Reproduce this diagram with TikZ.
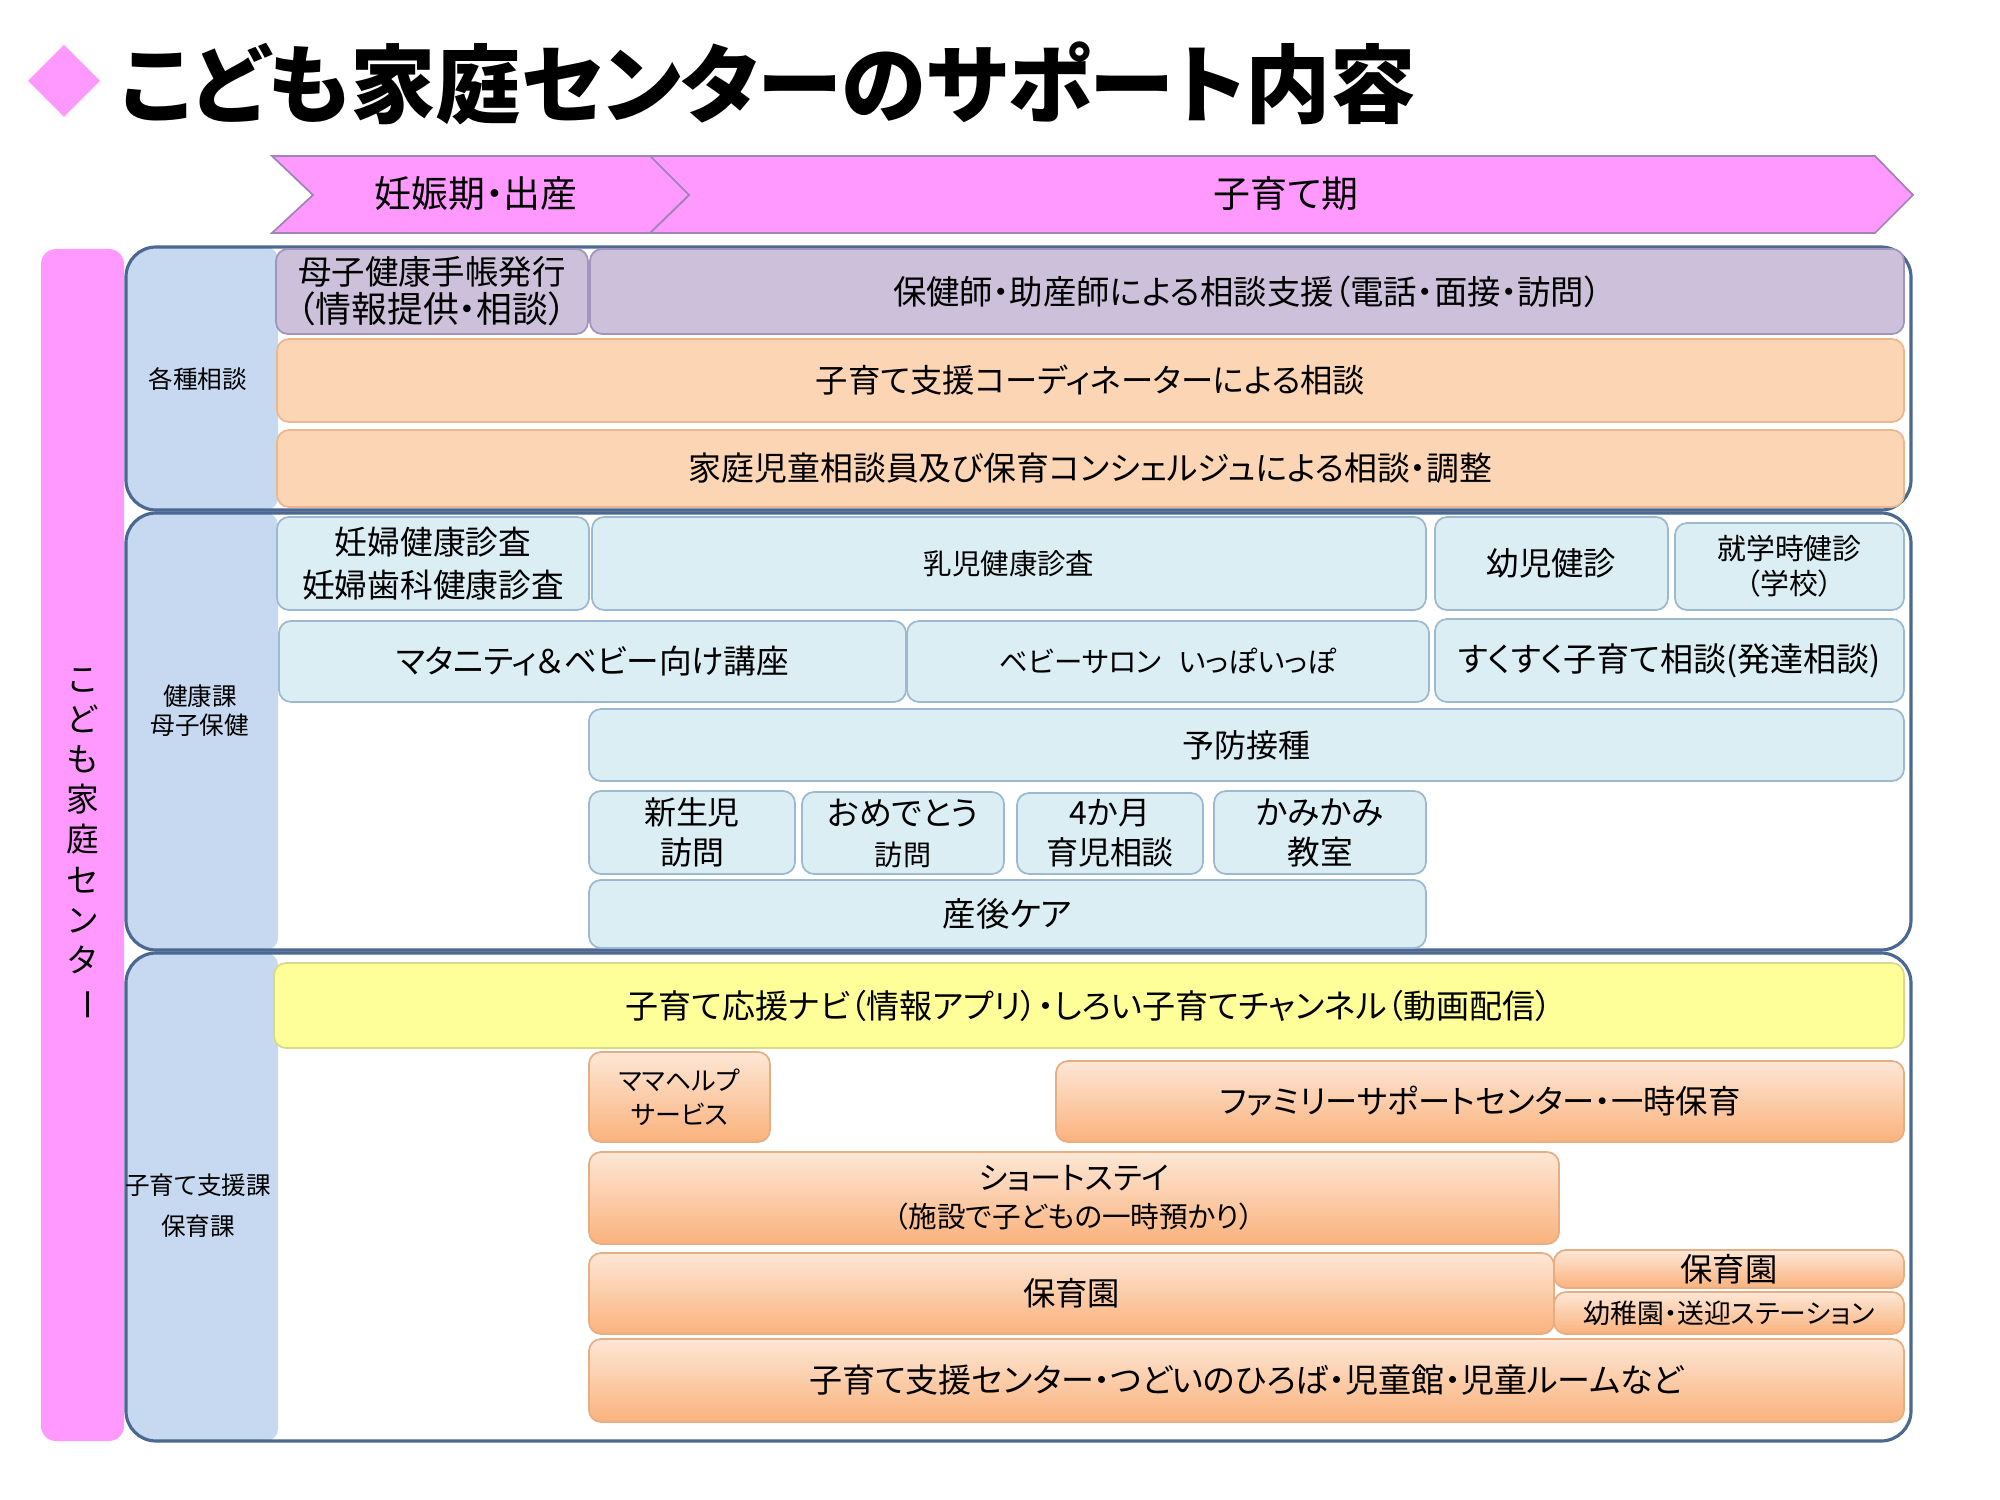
\documentclass[tikz,border=0pt]{standalone}
\usepackage{fontspec}
\usepackage{graphicx}
\setmainfont{Noto Sans CJK JP}[RawFeature=+palt]

\definecolor{pinkfill}{HTML}{FF99FF}
\definecolor{chevline}{HTML}{9E85B8}
\definecolor{colblue}{HTML}{C6D9F1}
\definecolor{frameline}{HTML}{4A6891}
\definecolor{lavfill}{HTML}{CCC0DA}
\definecolor{lavline}{HTML}{A394BD}
\definecolor{peachfill}{HTML}{FCD5B5}
\definecolor{peachline}{HTML}{EDB78E}
\definecolor{icefill}{HTML}{DBEEF4}
\definecolor{iceline}{HTML}{9DB9CF}
\definecolor{yelfill}{HTML}{FFFF99}
\definecolor{yelline}{HTML}{D9D98C}
\definecolor{orgtop}{HTML}{FDE7D6}
\definecolor{orgbot}{HTML}{FAB27C}
\definecolor{orgline}{HTML}{E7AE83}

\newcommand\sz[2]{\fontsize{#1}{#2}\selectfont}

\tikzset{
  span/.style n args={4}{at={({(#1+#3)/2},{(#2+#4)/2})},
    minimum width={(#3-#1)*0.1mm}, minimum height={(#4-#2)*0.1mm}},
  cell/.style={rounded corners=1.2mm, inner sep=0pt, align=center, line width=0.5pt},
  lav/.style={cell, fill=lavfill, draw=lavline},
  peach/.style={cell, fill=peachfill, draw=peachline},
  ice/.style={cell, fill=icefill, draw=iceline},
  yel/.style={cell, fill=yelfill, draw=yelline},
  org/.style={cell, top color=orgtop, bottom color=orgbot, draw=orgline},
  band/.style={fill=pinkfill, draw=chevline, line width=0.5pt},
  frame/.style={draw=frameline, line width=0.9pt, rounded corners=3mm},
}

\begin{document}
\begin{tikzpicture}[x=0.1mm, y=-0.1mm]
\useasboundingbox (0,0) rectangle (2000,1500);

% title
\fill[pinkfill] (64,45) -- (100,81) -- (64,117) -- (28,81) -- cycle;
\node[anchor=west, font=\sz{24.3}{28}\bfseries] (title) at (108,83) {こども家庭センターのサポート内容};

% stages
\draw[band] (650,156) -- (1875,156) -- (1913,195) -- (1875,233) -- (650,233) -- (689,195) -- cycle;
\draw[band] (272,156) -- (650,156) -- (689,195) -- (650,233) -- (272,233) -- (313,195) -- cycle;
\node[font=\sz{10.5}{12}] (ninshin) at (476,194) {妊娠期・出産};
\node[font=\sz{10.5}{12}] (kosodate) at (1286,194) {子育て期};

% side bar
\node[fill=pinkfill, rounded corners=1.5mm, inner sep=0pt, span={41}{249}{124}{1441},
      align=center, font=\sz{9.3}{11.4}] (center)
  {こ\\ど\\も\\家\\庭\\セ\\ン\\タ\\\rotatebox[origin=c]{-90}{ー}};

% section frames
\foreach \t/\b in {247/510, 513/950, 953/1441} {
  \begin{scope}
    \clip[rounded corners=3mm] (126,\t) rectangle (1911,\b);
    \fill[white] (126,\t) rectangle (1911,\b);
    \fill[colblue, rounded corners=1.2mm] (100,\t) rectangle (278,\b);
  \end{scope}
  \draw[frame] (126,\t) rectangle (1911,\b);
}
\node[font=\sz{7}{9}] (soudan) at (198,379) {各種相談};
\node[align=center, font=\sz{7}{8.3}] (kenko) at (200,711) {健康課\\母子保健};
\node[align=center, font=\sz{7}{11.7}] (kosodateka) at (198,1206) {子育て支援課\\保育課};

% consultation
\node[lav, span={276}{249}{588}{334}, font=\sz{9.5}{10.8}] (techo) {母子健康手帳発行\\{\sz{10.2}{10.8}（情報提供・相談）}};
\node[lav, span={590}{249}{1904}{334}, font=\sz{9.5}{11}] (hokenshi) {保健師・助産師による相談支援（電話・面接・訪問）};
\node[peach, span={277}{339}{1904}{422}, font=\sz{9.2}{11}] (coord) {子育て支援コーディネーターによる相談};
\node[peach, span={277}{430}{1904}{507}, font=\sz{9.35}{11}] (katei) {家庭児童相談員及び保育コンシェルジュによる相談・調整};

% health
\node[ice, span={277}{517}{589}{610}, font=\sz{9.3}{12.2}] (ninpu) {妊婦健康診査\\妊婦歯科健康診査};
\node[ice, span={592}{517}{1426}{610}, font=\sz{8.1}{10}] (nyuji) {乳児健康診査};
\node[ice, span={1435}{517}{1668}{610}, font=\sz{9.2}{11}] (yoji) {幼児健診};
\node[ice, span={1675}{523}{1904}{610}, font=\sz{8.2}{10}] (shugaku) {就学時健診\\（学校）};
\node[ice, span={279}{621}{906}{702}, font=\sz{9.3}{11}] (maternity) {マタニティ＆ベビー向け講座};
\node[ice, span={907}{621}{1429}{702}, font=\sz{8.1}{10}] (salon) {ベビーサロン\hspace{0.6em}いっぽいっぽ};
\node[ice, span={1435}{619}{1904}{702}, font=\sz{9.4}{11}] (sukusuku) {すくすく子育て相談(発達相談)};
\node[ice, span={589}{709}{1904}{781}, font=\sz{9.1}{11}] (yobo) {予防接種};
\node[ice, span={589}{791}{795}{874}, font=\sz{9.1}{11.4}] (shinsei) {新生児\\訪問};
\node[ice, span={802}{792}{1004}{874}, font=\sz{9.4}{11.4}] (omedeto) {おめでとう\\{\sz{8}{10}訪問}};
\node[ice, span={1017}{793}{1203}{874}, font=\sz{9.1}{11.4}] (yonkagetsu) {4か月\\育児相談};
\node[ice, span={1214}{791}{1426}{874}, font=\sz{9.3}{11.4}] (kamikami) {かみかみ\\教室};
\node[ice, span={589}{880}{1426}{948}, font=\sz{9.5}{11}] (sango) {産後ケア};

% child care
\node[yel, span={274}{963}{1904}{1048}, font=\sz{9.4}{12}] (navi) {子育て応援ナビ（情報アプリ）・しろい子育てチャンネル（動画配信）};
\node[org, span={589}{1052}{770}{1142}, font=\sz{7.4}{9.7}] (mamahelp) {ママヘルプ\\サービス};
\node[org, span={1056}{1061}{1904}{1142}, font=\sz{9.2}{11}] (family) {ファミリーサポートセンター・一時保育};
\node[org, span={589}{1152}{1559}{1244}, font=\sz{8.9}{10.8}] (short) {ショートステイ\\{\sz{8.15}{10.8}（施設で子どもの一時預かり）}};
\node[org, span={589}{1253}{1554}{1334}, font=\sz{9.2}{11}] (hoikuen) {保育園};
\node[org, span={1554}{1250}{1904}{1288}, font=\sz{9.2}{11}] (hoikuenb) {保育園};
\node[org, span={1554}{1292}{1904}{1334}, font=\sz{7.65}{10}] (yochien) {幼稚園・送迎ステーション};
\node[org, span={589}{1339}{1904}{1422}, font=\sz{9.4}{12}] (shien) {子育て支援センター・つどいのひろば・児童館・児童ルームなど};
\end{tikzpicture}
\end{document}
